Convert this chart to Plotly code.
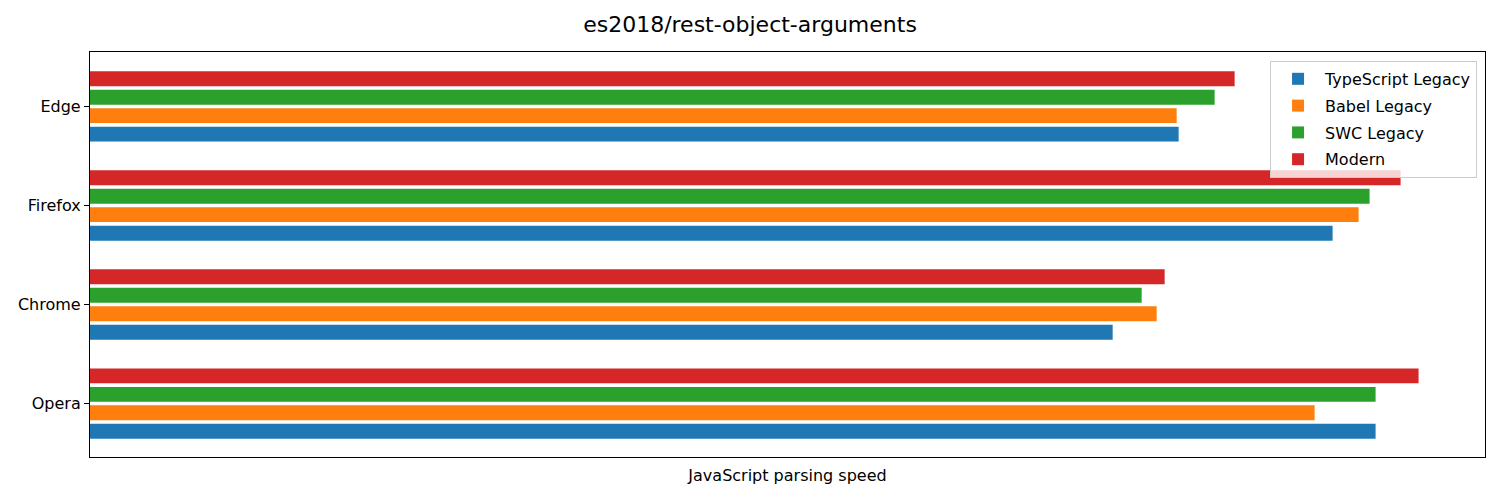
import plotly.graph_objects as go

browsers = ["Opera", "Chrome", "Firefox", "Edge"]
series_names = ["TypeScript Legacy", "Babel Legacy", "SWC Legacy", "Modern"]
colors = ["#1f77b4", "#ff7f0e", "#2ca02c", "#d62728"]
# values per browser (Opera, Chrome, Firefox, Edge)
typescript_legacy = [1286, 1023, 1243, 1089]
babel_legacy = [1225, 1067, 1269, 1087]
swc_legacy = [1286, 1052, 1280, 1125]
modern = [1329, 1075, 1311, 1145]
series_values = [typescript_legacy, babel_legacy, swc_legacy, modern]

offsets = [-0.28, -0.093, 0.093, 0.28]
bar_h = 0.15

fig = go.Figure()
for name, vals, col, off in zip(series_names, series_values, colors, offsets):
    fig.add_trace(go.Bar(
        x=vals,
        y=[i + off for i in range(len(browsers))],
        orientation="h",
        width=bar_h,
        name=name,
        legendgroup=name,
        marker=dict(color=col, line=dict(width=0)),
    ))

xmax = max(max(v) for v in series_values) * 1.05

fig.update_layout(
    width=1500, height=500,
    margin=dict(l=90, r=15, t=52, b=43),
    paper_bgcolor="white", plot_bgcolor="white",
    font=dict(family="DejaVu Sans", size=16, color="black"),
    title=dict(text="es2018/rest-object-arguments", x=0.5, xanchor="center",
               y=1 - 24 / 500, yanchor="middle", font=dict(size=22)),
    showlegend=True,
    legend=dict(x=0.9943, xanchor="right", y=0.978, yanchor="top",
                bgcolor="rgba(255,255,255,0.8)", bordercolor="#cccccc", borderwidth=1,
                font=dict(size=16), traceorder="grouped", tracegroupgap=3,
                itemwidth=44),
    barmode="overlay",
)
fig.update_xaxes(range=[0, xmax], showticklabels=False, ticks="", showgrid=False,
                 zeroline=False, showline=True, mirror=True, linecolor="black", linewidth=1.2,
                 title=dict(text="JavaScript parsing speed", standoff=12, font=dict(size=16)))
fig.update_yaxes(range=[-0.54, 3.55], tickvals=list(range(len(browsers))), ticktext=browsers,
                 ticks="outside", ticklen=5, tickcolor="black", tickwidth=1.2,
                 showgrid=False, zeroline=False, showline=True, mirror=True,
                 linecolor="black", linewidth=1.2, tickfont=dict(size=16))

fig.write_html("out.html")
